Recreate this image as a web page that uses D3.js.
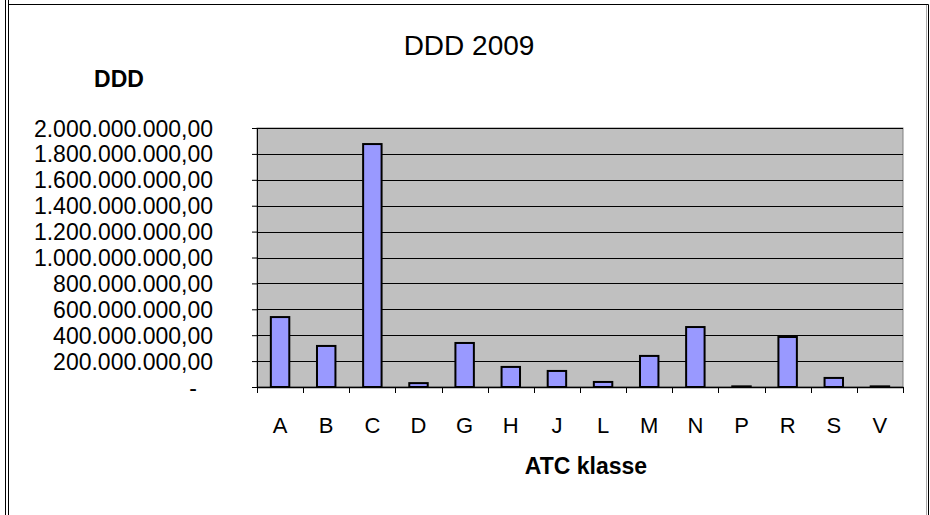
<!DOCTYPE html>
<html>
<head>
<meta charset="utf-8">
<script src="https://cdn.jsdelivr.net/npm/d3@7"></script>
<style>
	body { margin: 0; background: #fff; }
	text { font-family: "Liberation Sans", Arial, sans-serif; fill: #000; }
</style>
</head>
<body>
<script>
/* globals d3:false */

// ATC classes and their DDD for 2009
var categories = ["A", "B", "C", "D", "G", "H", "J", "L", "M", "N", "P", "R", "S", "V"];
var ddd = [540e6, 317e6, 1876e6, 30e6, 340e6, 155e6, 124e6, 39e6, 240e6, 463e6, 5e6, 386e6, 70e6, 5e6];
var yTicks = [0, 200e6, 400e6, 600e6, 800e6, 1000e6, 1200e6, 1400e6, 1600e6, 1800e6, 2000e6];

var data = categories.map(function(c, i) {
	return { atc: c, value: ddd[i] };
});

// plot area (Excel style)
var margin = { top: 128, right: 27, bottom: 128, left: 257 };
var width = 930 - margin.left - margin.right;
var height = 515 - margin.top - margin.bottom;

var svg = d3.select("body").append("svg")
	.attr("width", 930)
	.attr("height", 515);

// frame of the sheet
svg.append("line").attr("x1", 5.5).attr("x2", 5.5).attr("y1", 0).attr("y2", 515).attr("stroke", "#000");
svg.append("line").attr("x1", 8.5).attr("x2", 8.5).attr("y1", 0).attr("y2", 515).attr("stroke", "#000");
svg.append("line").attr("x1", 8.5).attr("x2", 928.5).attr("y1", 4.5).attr("y2", 4.5).attr("stroke", "#000");
svg.append("line").attr("x1", 928.5).attr("x2", 928.5).attr("y1", 4.5).attr("y2", 515).attr("stroke", "#000");
svg.append("line").attr("x1", 926.5).attr("x2", 926.5).attr("y1", 5).attr("y2", 515).attr("stroke", "#aaa");

var g = svg.append("g")
	.attr("transform", "translate(" + margin.left + "," + margin.top + ")");

var x = d3.scaleBand()
	.domain(categories)
	.range([0, width]);

var y = d3.scaleLinear()
	.domain([0, 2000e6])
	.range([height, 0]);

// Danish number format
var nf = d3.formatLocale({ decimal: ",", thousands: ".", grouping: [3], currency: ["", ""] }).format(",.2f");

// grey background
g.append("rect")
	.attr("width", width)
	.attr("height", height)
	.attr("fill", "#c0c0c0")
	.attr("stroke", "#808080");

// gridlines
g.selectAll(".grid")
	.data(yTicks.slice(1))
	.enter().append("line")
	.attr("class", "grid")
	.attr("x1", 0)
	.attr("x2", width)
	.attr("y1", function(d) { return Math.round(y(d)) + 0.5; })
	.attr("y2", function(d) { return Math.round(y(d)) + 0.5; })
	.attr("stroke", "#000");

// bars, 40% of each band
var bw = x.bandwidth() * 0.4;
g.selectAll(".bar")
	.data(data)
	.enter().append("rect")
	.attr("class", "bar")
	.attr("x", function(d) { return x(d.atc) + (x.bandwidth() - bw) / 2; })
	.attr("y", function(d) { return y(d.value); })
	.attr("width", bw)
	.attr("height", function(d) { return height - y(d.value); })
	.attr("fill", "#9999ff")
	.attr("stroke", "#000")
	.attr("stroke-width", 2);

// y axis
var yAxis = g.append("g")
	.call(d3.axisLeft(y)
		.tickValues(yTicks)
		.tickSize(5)
		.tickPadding(39)
		.tickFormat(function(d) { return d === 0 ? "-" : nf(d); }));
yAxis.select(".domain").attr("stroke", "#000").attr("d", "M0.5,0V" + height);
yAxis.selectAll(".tick line").attr("stroke", "#000");
yAxis.selectAll(".tick text")
	.style("font-size", "23px")
	.attr("dy", "0.35em");
yAxis.selectAll(".tick text").filter(function(d) { return d === 0; })
	.attr("x", -60);

// x axis, ticks between the categories
var xAxis = g.append("g")
	.attr("transform", "translate(0," + height + ")")
	.call(d3.axisBottom(x).tickSize(0).tickPadding(38));
xAxis.select(".domain").attr("stroke", "#000").attr("stroke-width", 1.5);
xAxis.selectAll(".tick text").style("font-size", "22px").attr("dy", "0.35em");
xAxis.selectAll(".sep")
	.data(d3.range(categories.length + 1))
	.enter().append("line")
	.attr("class", "sep")
	.attr("x1", function(i) { return Math.round(i * x.step()) + 0.5; })
	.attr("x2", function(i) { return Math.round(i * x.step()) + 0.5; })
	.attr("y1", 0)
	.attr("y2", 6)
	.attr("stroke", "#000");

// titles
svg.append("text")
	.attr("x", 469)
	.attr("y", 55)
	.attr("text-anchor", "middle")
	.style("font-size", "28px")
	.text("DDD 2009");

svg.append("text")
	.attr("x", 119)
	.attr("y", 87)
	.attr("text-anchor", "middle")
	.style("font-size", "23px")
	.style("font-weight", "bold")
	.text("DDD");

svg.append("text")
	.attr("x", 586)
	.attr("y", 474)
	.attr("text-anchor", "middle")
	.style("font-size", "23px")
	.style("font-weight", "bold")
	.text("ATC klasse");
</script>
</body>
</html>
